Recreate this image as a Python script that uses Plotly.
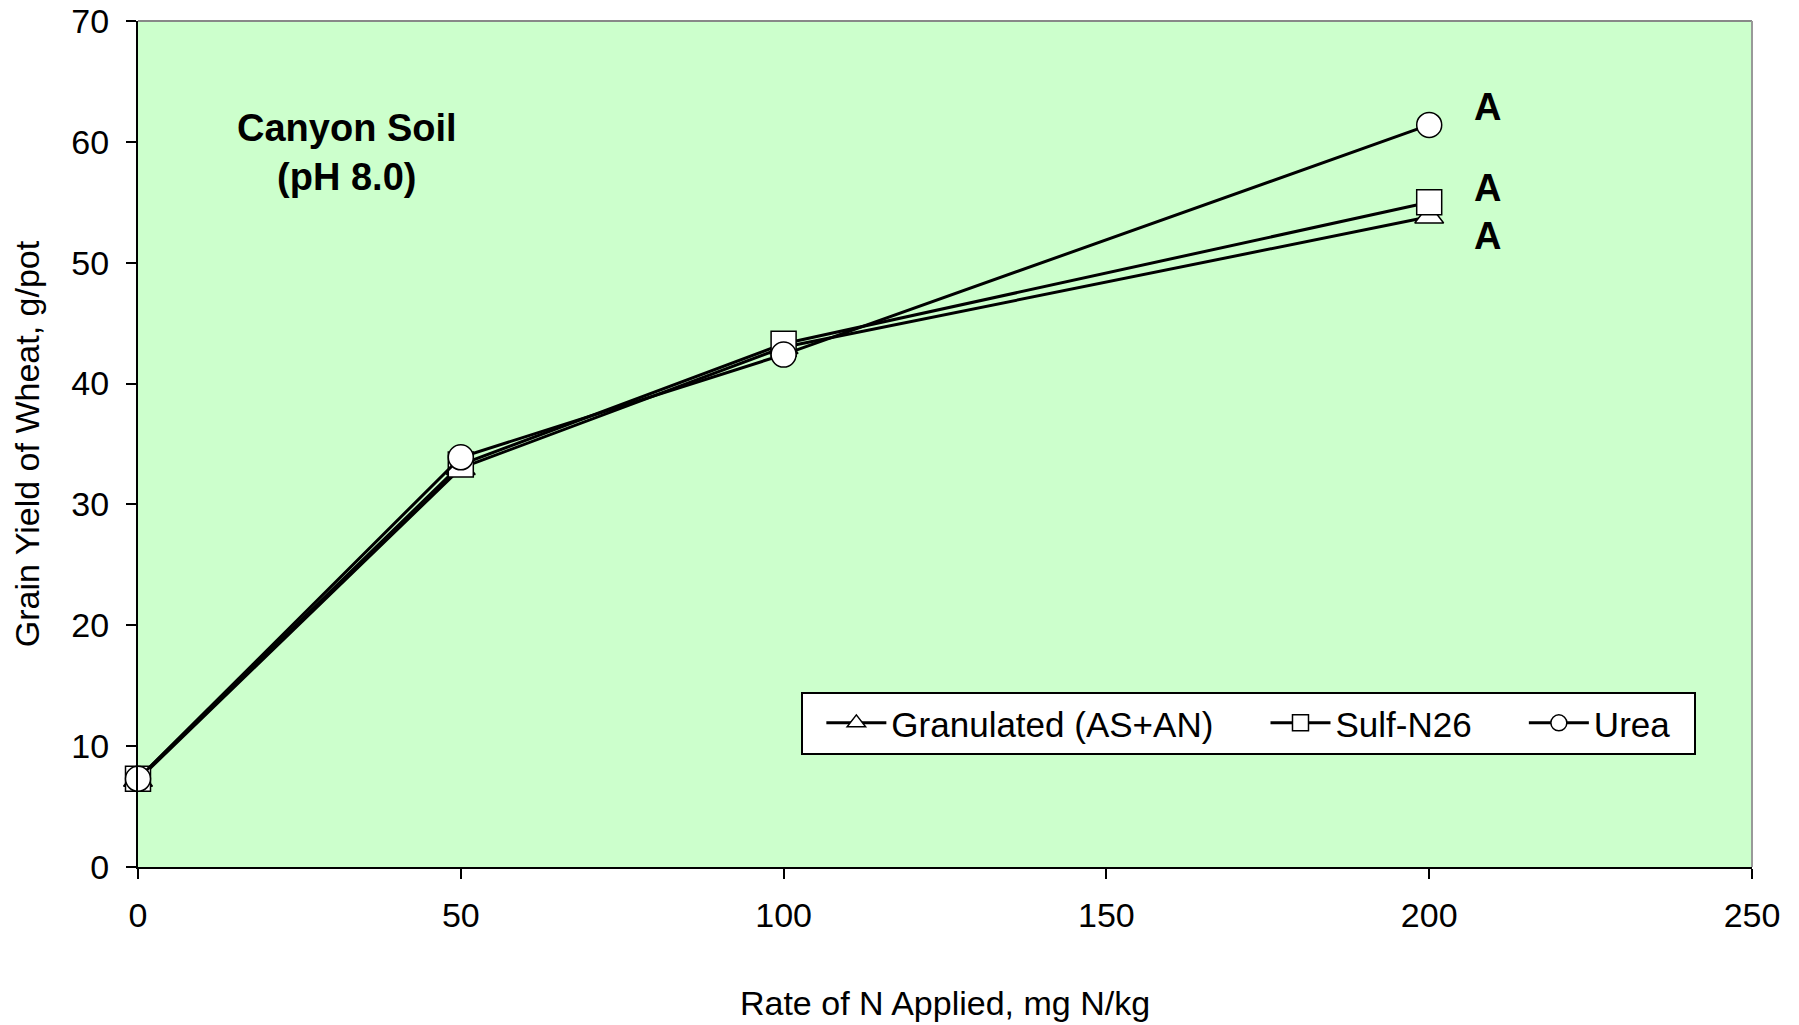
import plotly.graph_objects as go

rates = [0, 50, 100, 200]
granulated = [7.2, 33.0, 43.0, 53.8]
sulf_n26 = [7.3, 33.3, 43.3, 55.0]
urea = [7.3, 33.9, 42.4, 61.4]

letters = ["A", "A", "A"]
letter_y = [62.9, 56.2, 52.2]
letter_x = [209, 209, 209]

x_ticks = [0, 50, 100, 150, 200, 250]
y_ticks = [0, 10, 20, 30, 40, 50, 60, 70]

FONT = "Liberation Sans, Arial, sans-serif"
PAD = "&nbsp;"

fig = go.Figure()
series = [
    ("Granulated (AS+AN)", granulated, "triangle-up", 3),
    ("Sulf-N26", sulf_n26, "square", 3),
    ("Urea", urea, "circle", 2),
]
for name, vals, sym, pad in series:
    fig.add_trace(go.Scatter(
        x=rates, y=vals, name=name + PAD * pad, mode="lines+markers",
        line=dict(color="black", width=3),
        marker=dict(symbol=sym, size=25, color="white",
                    line=dict(color="black", width=1.5)),
        cliponaxis=False,
    ))

for lx, ly, lt in zip(letter_x, letter_y, letters):
    fig.add_annotation(x=lx, y=ly, text=f"<b>{lt}</b>", showarrow=False,
                       font=dict(family=FONT, size=38, color="black"))

fig.add_annotation(x=32.3, y=59.1, text="<b>Canyon Soil<br>(pH 8.0)</b>",
                   showarrow=False, align="center",
                   font=dict(family=FONT, size=38, color="black"))

fig.update_layout(
    width=1799, height=1025,
    margin=dict(l=138, r=47, t=21, b=158),
    paper_bgcolor="white",
    plot_bgcolor="#ccffcc",
    font=dict(family=FONT, size=34, color="black"),
    showlegend=True,
    legend=dict(
        orientation="h", x=0.411, y=0.2073, xanchor="left", yanchor="top",
        bgcolor="white", bordercolor="black", borderwidth=2,
        font=dict(family=FONT, size=35, color="black"),
        itemwidth=60, indentation=18,
    ),
    xaxis=dict(
        range=[0, 250], tickvals=x_ticks, ticks="outside", ticklen=10,
        tickwidth=2, tickcolor="black", showline=True, linecolor="black",
        linewidth=2, showgrid=False, zeroline=False, mirror=False,
        automargin=False, ticklabelstandoff=7,
        tickfont=dict(family=FONT, size=34),
        title=dict(text="Rate of N Applied, mg N/kg", standoff=58,
                   font=dict(family=FONT, size=34)),
    ),
    yaxis=dict(
        range=[0, 70], tickvals=y_ticks, ticks="outside", ticklen=10,
        tickwidth=2, tickcolor="black", showline=True, linecolor="black",
        linewidth=2, showgrid=False, zeroline=False,
        automargin=False, ticklabelstandoff=10,
        tickfont=dict(family=FONT, size=34),
        title=dict(text="Grain Yield of Wheat, g/pot", standoff=21,
                   font=dict(family=FONT, size=34)),
    ),
)

# grey frame on top and right
fig.add_shape(type="line", xref="paper", yref="paper", x0=0, x1=1, y0=1, y1=1,
              line=dict(color="#888888", width=2))
fig.add_shape(type="line", xref="paper", yref="paper", x0=1, x1=1, y0=0, y1=1,
              line=dict(color="#999999", width=2))

fig.write_html("out.html")
